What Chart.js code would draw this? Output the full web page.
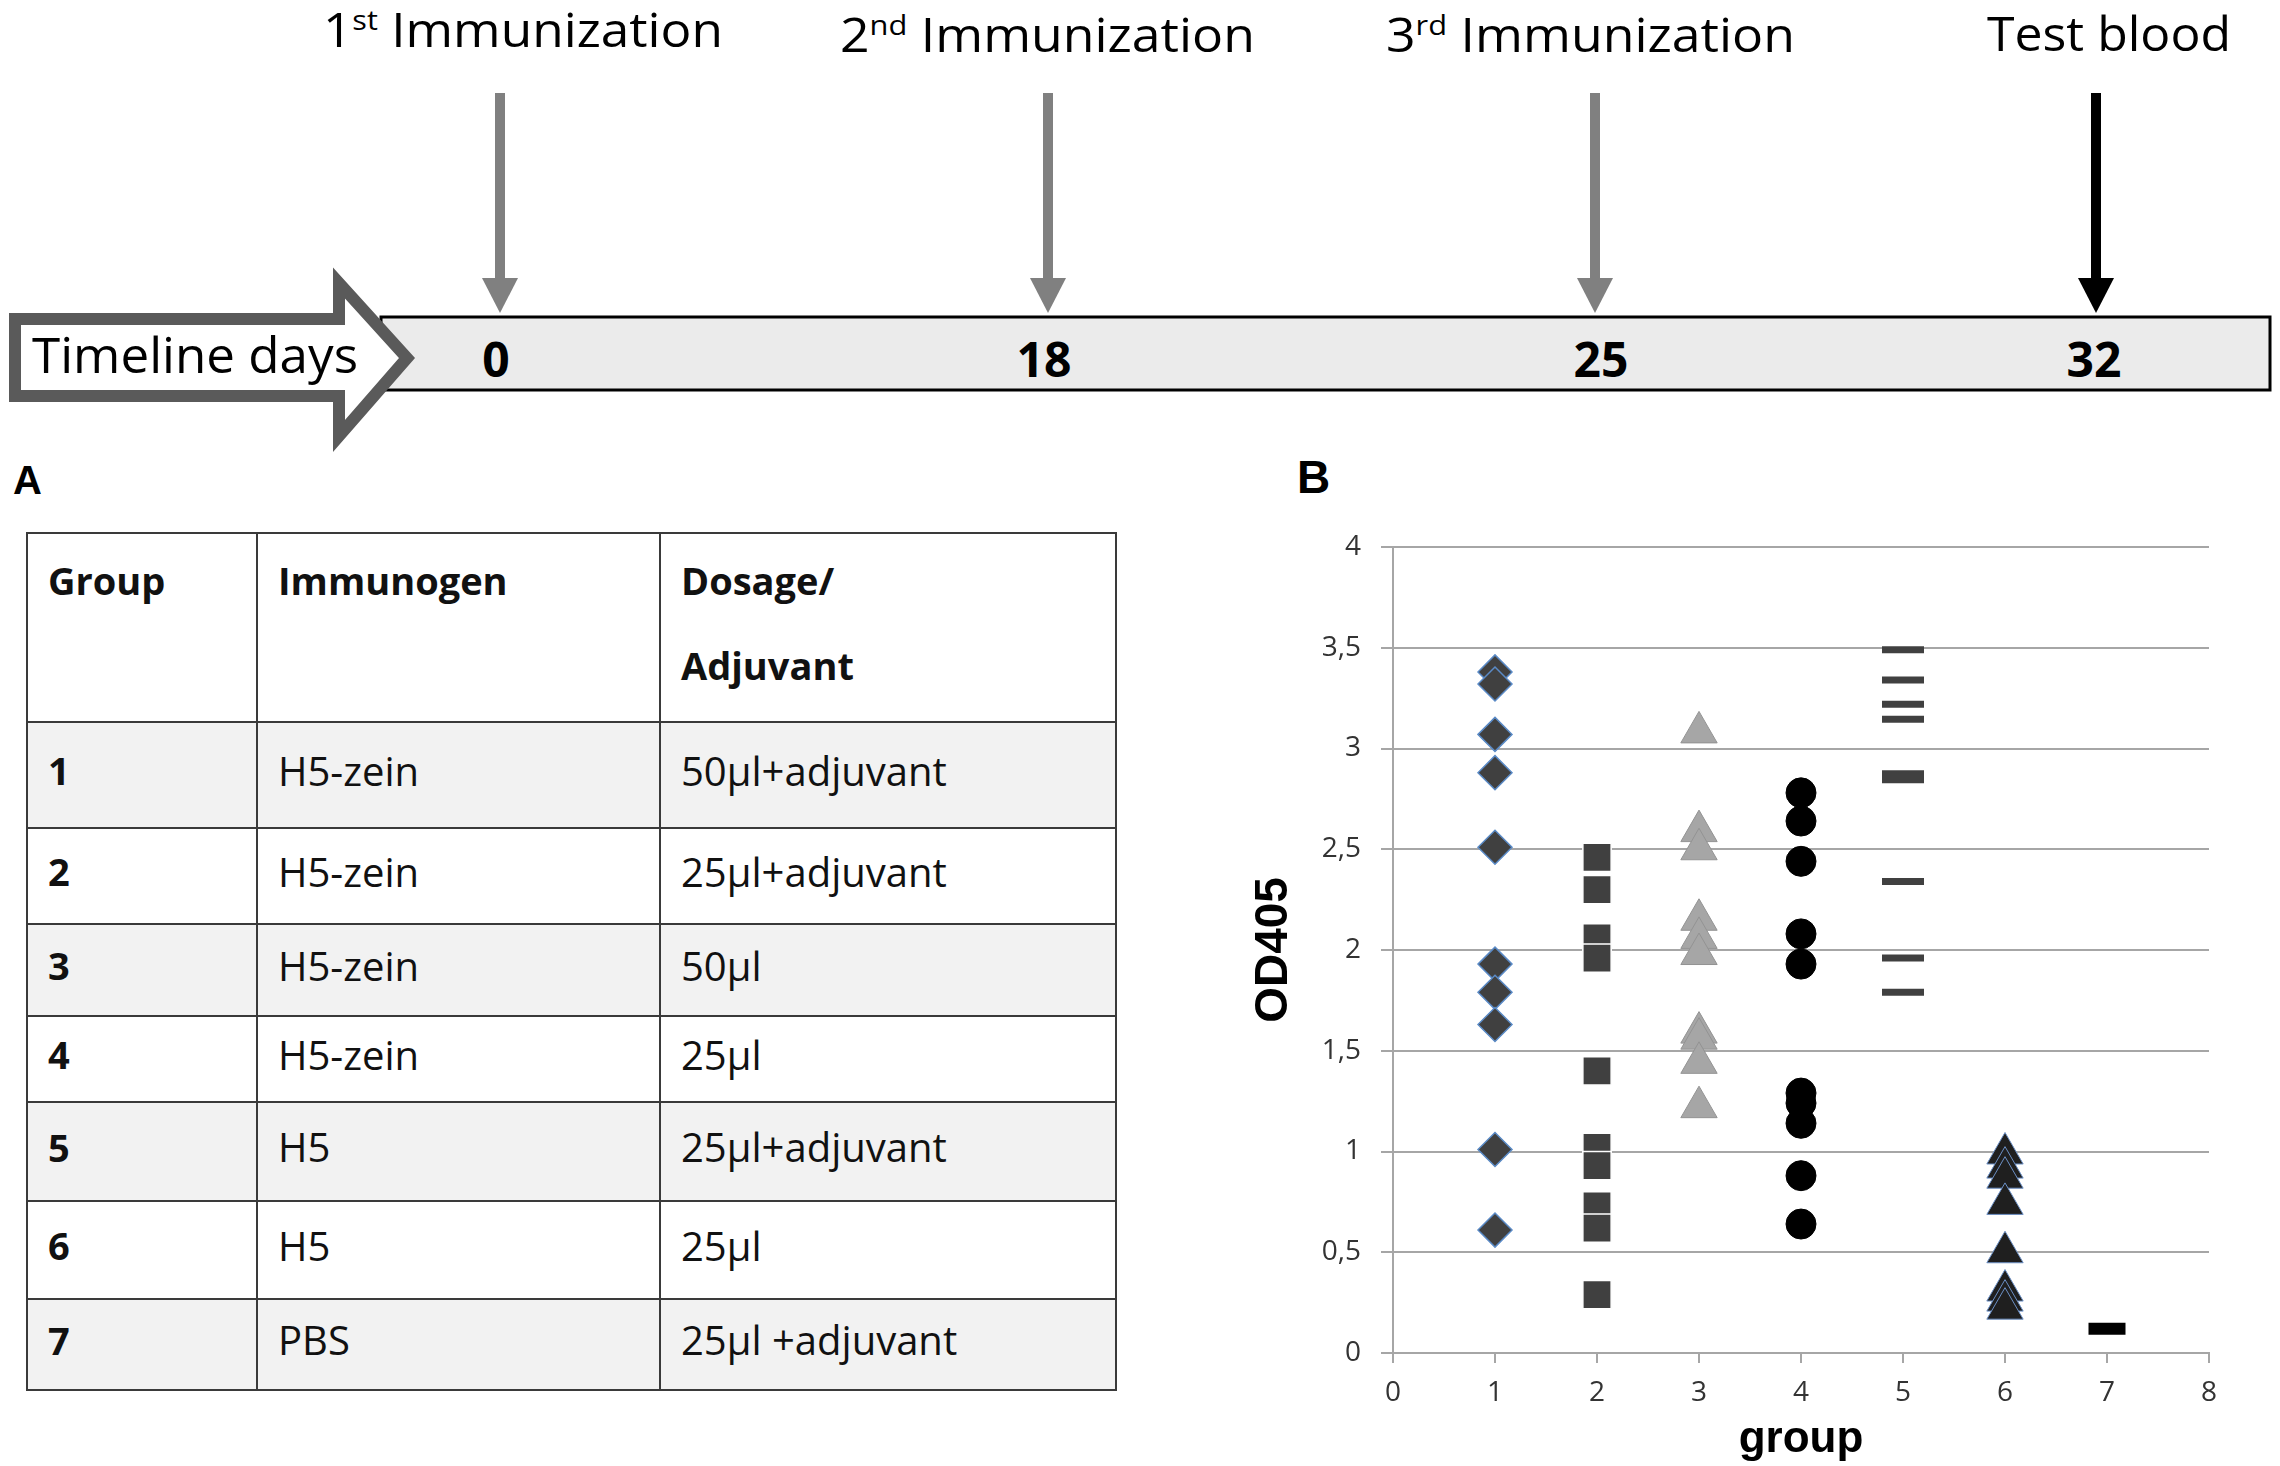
<!DOCTYPE html>
<html lang="en">
<head>
  <meta charset="UTF-8" />
  <title>Immunization timeline and OD405 by group</title>
  <script src="https://cdn.jsdelivr.net/npm/chart.js"></script>
  <style>
    body { margin: 0; width: 2280px; height: 1466px; background: #fff; position: relative; overflow: hidden; font-family: "Open Sans", sans-serif; }
    #timeline { position: absolute; left: 0; top: 0; }
    #tbl {
      position: absolute; left: 26px; top: 532px; width: 1089px;
      border-collapse: collapse; table-layout: fixed; color: #111;
    }
    #tbl td { border: 2px solid #3a3a3a; padding: 0 0 10px 20px; font-size: 40px; vertical-align: middle; }
    #tbl tr.head td { vertical-align: top; padding-top: 4px; font-weight: bold; font-size: 38px; line-height: 85px; }
    #tbl tr.shade td { background: #f2f2f2; }
    #tbl td.num { font-weight: bold; font-size: 38px; }
    .chart-box { position: absolute; left: 1230px; top: 530px; width: 1000px; height: 936px; }
  </style>
</head>
<body>
  <svg id="timeline" width="2280" height="520" font-family="Open Sans" fill="#000">
    <!-- labels over the arrows -->
    <text x="323" y="47" font-size="47" textLength="400" lengthAdjust="spacingAndGlyphs">1<tspan dy="-17" font-size="28">st</tspan><tspan dy="17"> Immunization</tspan></text>
    <text x="840" y="52" font-size="47" textLength="415" lengthAdjust="spacingAndGlyphs">2<tspan dy="-17" font-size="28">nd</tspan><tspan dy="17"> Immunization</tspan></text>
    <text x="1386" y="52" font-size="47" textLength="409" lengthAdjust="spacingAndGlyphs">3<tspan dy="-17" font-size="28">rd</tspan><tspan dy="17"> Immunization</tspan></text>
    <text x="1987" y="51" font-size="47" textLength="244" lengthAdjust="spacingAndGlyphs">Test blood</text>

    <!-- arrows -->
    <g fill="#808080">
      <rect x="495" y="93" width="10" height="188" />
      <polygon points="482,278 518,278 500,313" />
      <rect x="1043" y="93" width="10" height="188" />
      <polygon points="1030,278 1066,278 1048,313" />
      <rect x="1590" y="93" width="10" height="188" />
      <polygon points="1577,278 1613,278 1595,313" />
    </g>
    <rect x="2091" y="93" width="10" height="188" fill="#000" />
    <polygon points="2078,278 2114,278 2096,313" fill="#000" />

    <!-- timeline bar -->
    <rect x="381" y="317" width="1889" height="73" fill="#ebebeb" stroke="#000" stroke-width="3" />
    <polygon points="15,319 339,319 339,283 407,358 339,436 339,396 15,396" fill="#fff" stroke="#5a5a5a" stroke-width="12" stroke-linejoin="miter" />
    <text x="32" y="373" font-size="50" textLength="326" lengthAdjust="spacingAndGlyphs">Timeline days</text>
    <g font-size="48" font-weight="bold" text-anchor="middle">
      <text x="496" y="377">0</text>
      <text x="1044" y="377">18</text>
      <text x="1601" y="377">25</text>
      <text x="2094" y="377">32</text>
    </g>

    <!-- panel letters -->
    <text x="13" y="494" font-family="Liberation Sans" font-weight="bold" font-size="40">A</text>
    <text x="1297" y="493" font-family="Liberation Sans" font-weight="bold" font-size="46">B</text>
  </svg>

  <table id="tbl">
    <colgroup><col style="width:230px"><col style="width:403px"><col style="width:456px"></colgroup>
    <tbody id="tbl-body"></tbody>
  </table>

  <div class="chart-box"><canvas id="chart-od" width="1000" height="936"></canvas></div>

  <script>
    // table A
    const groups = ["1", "2", "3", "4", "5", "6", "7"];
    const immunogens = ["H5-zein", "H5-zein", "H5-zein", "H5-zein", "H5", "H5", "PBS"];
    const dosages = ["50µl+adjuvant", "25µl+adjuvant", "50µl", "25µl", "25µl+adjuvant", "25µl", "25µl +adjuvant"];
    const rowHeights = [106, 96, 92, 86, 99, 98, 91];

    // chart B: OD405 per mouse, one array per group
    const group1 = [3.38, 3.32, 3.07, 2.88, 2.51, 1.93, 1.79, 1.63, 1.01, 0.61];
    const group2 = [2.46, 2.30, 2.06, 1.96, 1.40, 1.02, 0.93, 0.73, 0.62, 0.29];
    const group3 = [3.08, 2.59, 2.50, 2.15, 2.06, 1.98, 1.59, 1.56, 1.44, 1.22];
    const group4 = [2.78, 2.64, 2.44, 2.08, 1.93, 1.29, 1.24, 1.14, 0.88, 0.64];
    const group5 = [3.49, 3.34, 3.22, 3.145, 2.875, 2.845, 2.34, 1.96, 1.79];
    const group6 = [0.99, 0.92, 0.87, 0.74, 0.50, 0.31, 0.26, 0.22];
    const group7 = [0.12];
    const yTickLabels = ["0", "0,5", "1", "1,5", "2", "2,5", "3", "3,5", "4"];
    const xTickLabels = ["0", "1", "2", "3", "4", "5", "6", "7", "8"];

    const body = document.getElementById("tbl-body");
    body.innerHTML = `<tr class="head" style="height:189px"><td>Group</td><td>Immunogen</td><td>Dosage/<br>Adjuvant</td></tr>`;
    groups.forEach((g, i) => {
      const cls = i % 2 === 0 ? "shade" : "";
      body.innerHTML += `<tr class="${cls}" style="height:${rowHeights[i]}px"><td class="num">${g}</td><td>${immunogens[i]}</td><td>${dosages[i]}</td></tr>`;
    });

    const pts = (x, arr) => arr.map(v => ({ x: x, y: v }));
    const gridGray = "#a6a6a6";

    new Chart(document.getElementById("chart-od").getContext("2d"), {
      type: "scatter",
      data: {
        datasets: [
          { label: "1", data: pts(1, group1), pointStyle: "rectRot", pointRadius: 17,
            backgroundColor: "#404040", borderColor: "#5a8ac6", borderWidth: 1.5 },
          { label: "2", data: pts(2, group2), pointStyle: "rect", pointRadius: 20,
            backgroundColor: "#404040", borderColor: "#ffffff", borderWidth: 1.5 },
          { label: "3", data: pts(3, group3), pointStyle: "triangle", pointRadius: 21,
            backgroundColor: "#a6a6a6", borderColor: "#939393", borderWidth: 1 },
          { label: "4", data: pts(4, group4), pointStyle: "circle", pointRadius: 15,
            backgroundColor: "#000000", borderColor: "#000000", borderWidth: 1 },
          { label: "5", data: pts(5, group5), pointStyle: "line", pointRadius: 21,
            backgroundColor: "#404040", borderColor: "#404040", borderWidth: 7 },
          { label: "6", data: pts(6, group6), pointStyle: "triangle", pointRadius: 21,
            backgroundColor: "#1f1f1f", borderColor: "#6b8fc4", borderWidth: 1 },
          { label: "7", data: pts(7, group7), pointStyle: "line", pointRadius: 18.5,
            backgroundColor: "#000000", borderColor: "#000000", borderWidth: 12 }
        ]
      },
      options: {
        responsive: false,
        animation: false,
        clip: false,
        layout: { autoPadding: false, padding: { top: 17, right: 21, left: 0, bottom: 0 } },
        plugins: { legend: { display: false }, tooltip: { enabled: false } },
        scales: {
          x: {
            type: "linear", min: 0, max: 8,
            afterFit: s => { s.height = 113; s.paddingLeft = 0; s.paddingRight = 0; },
            afterBuildTicks: s => { s.ticks = xTickLabels.map((t, i) => ({ value: i })); },
            ticks: {
              callback: (v, i) => xTickLabels[i],
              color: "#333333", padding: 13,
              font: { family: "Open Sans", size: 28 }
            },
            grid: { drawOnChartArea: false, drawTicks: true, tickLength: 10, color: gridGray, lineWidth: 2 },
            border: { display: true, color: gridGray, width: 2 },
            title: {
              display: true, text: "group", color: "#000",
              font: { family: "Liberation Sans", size: 44, weight: "bold" },
              padding: { top: 8, bottom: 0 }
            }
          },
          y: {
            type: "linear", min: 0, max: 4,
            afterFit: s => { s.width = 163; s.paddingTop = 0; s.paddingBottom = 0; },
            afterBuildTicks: s => { s.ticks = yTickLabels.map((t, i) => ({ value: i * 0.5 })); },
            ticks: {
              callback: (v, i) => yTickLabels[i],
              color: "#333333", padding: 20,
              font: { family: "Open Sans", size: 28 }
            },
            grid: { color: gridGray, lineWidth: 2, tickLength: 12 },
            border: { display: true, color: gridGray, width: 2 },
            title: {
              display: true, text: "OD405", color: "#000",
              font: { family: "Liberation Sans", size: 46, weight: "bold" },
              padding: { top: 17, bottom: 0 }
            }
          }
        }
      }
    });
  </script>
</body>
</html>
